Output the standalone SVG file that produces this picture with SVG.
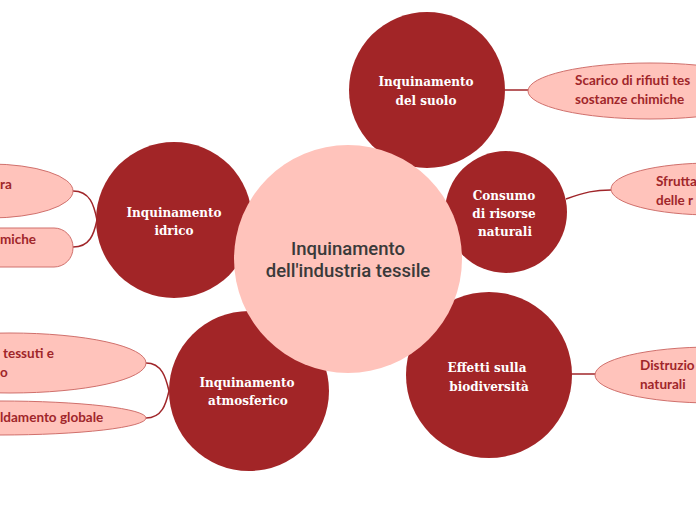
<svg xmlns="http://www.w3.org/2000/svg" width="696" height="520" viewBox="0 0 696 520">
<style>
.main{fill:#a22527}
.mt{font-family:"DejaVu Serif",serif;font-weight:bold;font-size:12px;fill:#ffffff;text-anchor:middle}
.leaf{fill:#ffc3bb;stroke:#d0706c;stroke-width:1}
.lt{font-family:Lato,"Open Sans",sans-serif;font-weight:bold;font-size:13.5px;fill:#a0262a}
.conn{fill:none;stroke:#a0262a;stroke-width:1.5}
.ct{font-family:Roboto,"Liberation Sans",sans-serif;font-weight:500;font-size:18.5px;fill:#3a3a3a;text-anchor:middle}
</style>
<rect width="696" height="520" fill="#ffffff"/>
<g id="connectors">
<path class="conn" d="M505,90 L528,90"/>
<path class="conn" d="M566,199 C585,192 595,190 611,190"/>
<path class="conn" d="M571,374 L596,374"/>
<path class="conn" d="M73,191 C90,191 94,205 97,220"/>
<path class="conn" d="M73,247 C90,247 94,234 97,220"/>
<path class="conn" d="M146,363 C162,363 166,378 169,391"/>
<path class="conn" d="M146,418 C162,418 166,404 169,391"/>
</g>
<g id="leaf-scarico">
<ellipse class="leaf" cx="650" cy="91" rx="122" ry="28"/>
<text class="lt" x="575" y="85">Scarico di rifiuti tes</text>
<text class="lt" x="575" y="104">sostanze chimiche</text>
</g>
<g id="leaf-sfrutta">
<ellipse class="leaf" cx="712" cy="189" rx="101" ry="26"/>
<text class="lt" x="656" y="186">Sfrutta</text>
<text class="lt" x="656" y="205">delle r</text>
</g>
<g id="leaf-distruzio">
<ellipse class="leaf" cx="712" cy="375" rx="117" ry="28"/>
<text class="lt" x="640" y="370">Distruzio</text>
<text class="lt" x="640" y="389">naturali</text>
</g>
<g id="leaf-ra">
<ellipse class="leaf" cx="-10" cy="191" rx="83" ry="27"/>
<text class="lt" x="0" y="189">ra</text>
</g>
<g id="leaf-miche">
<rect class="leaf" x="-30" y="228" width="103" height="39" rx="19"/>
<text class="lt" x="0" y="244">miche</text>
</g>
<g id="leaf-tessuti">
<ellipse class="leaf" cx="10" cy="363" rx="136" ry="30"/>
<text class="lt" x="3" y="358">tessuti e</text>
<text class="lt" x="0" y="377">o</text>
</g>
<g id="leaf-globale">
<ellipse class="leaf" cx="0" cy="418" rx="146" ry="17"/>
<text class="lt" x="0" y="422">ldamento globale</text>
</g>
<g id="node-suolo">
<circle class="main" cx="427" cy="90" r="78"/>
<text class="mt" x="426" y="86">Inquinamento</text>
<text class="mt" x="426" y="105">del suolo</text>
</g>
<g id="node-consumo">
<circle class="main" cx="506" cy="212" r="61"/>
<text class="mt" x="504" y="200">Consumo</text>
<text class="mt" x="504" y="218">di risorse</text>
<text class="mt" x="505" y="236">naturali</text>
</g>
<g id="node-idrico">
<circle class="main" cx="174" cy="220" r="78"/>
<text class="mt" x="174" y="217">Inquinamento</text>
<text class="mt" x="174" y="235">idrico</text>
</g>
<g id="node-atmosferico">
<circle class="main" cx="249" cy="391" r="80"/>
<text class="mt" x="247" y="387">Inquinamento</text>
<text class="mt" x="248" y="405">atmosferico</text>
</g>
<g id="node-biodiversita">
<circle class="main" cx="489" cy="375" r="83"/>
<text class="mt" x="487" y="372">Effetti sulla</text>
<text class="mt" x="489" y="391">biodiversità</text>
</g>
<g id="node-center">
<circle cx="348" cy="259" r="114" fill="#ffc3bb"/>
<text class="ct" x="348" y="255">Inquinamento</text>
<text class="ct" x="348" y="277">dell'industria tessile</text>
</g>
</svg>
